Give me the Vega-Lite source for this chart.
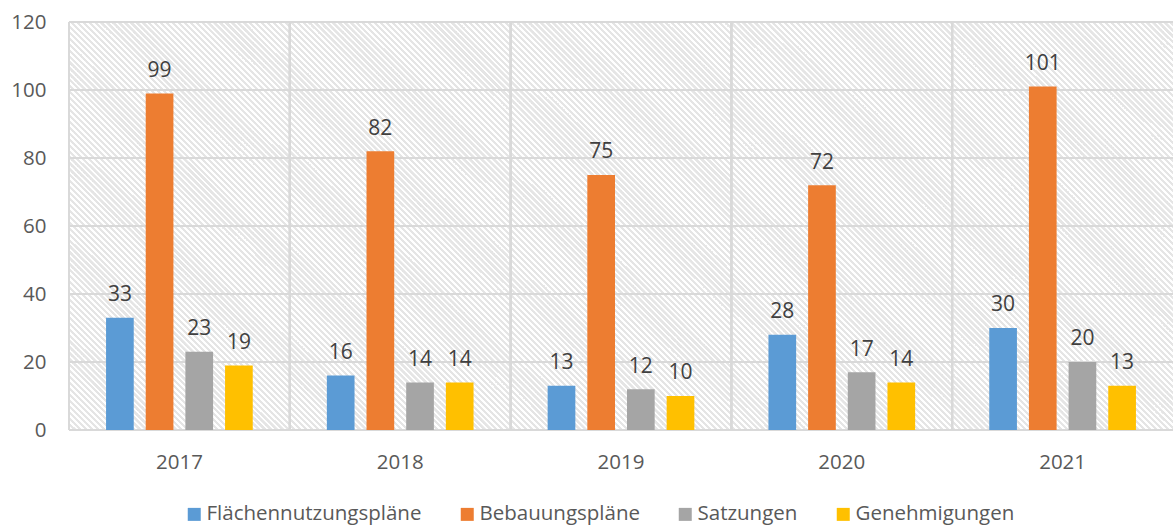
{
  "$schema": "https://vega.github.io/schema/vega-lite/v6.json",
  "width": 1104,
  "height": 408,
  "autosize": "none",
  "padding": {"left": 69, "top": 22, "right": 0, "bottom": 99},
  "background": "white",
  "config": {
    "view": {"stroke": null},
    "font": "Open Sans",
    "axis": {"labelFont": "Open Sans"},
    "legend": {"labelFont": "Open Sans"}
  },
  "data": {
    "values": [
      {"year": "2017", "type": "Flächennutzungspläne", "value": 33},
      {"year": "2017", "type": "Bebauungspläne", "value": 99},
      {"year": "2017", "type": "Satzungen", "value": 23},
      {"year": "2017", "type": "Genehmigungen", "value": 19},
      {"year": "2018", "type": "Flächennutzungspläne", "value": 16},
      {"year": "2018", "type": "Bebauungspläne", "value": 82},
      {"year": "2018", "type": "Satzungen", "value": 14},
      {"year": "2018", "type": "Genehmigungen", "value": 14},
      {"year": "2019", "type": "Flächennutzungspläne", "value": 13},
      {"year": "2019", "type": "Bebauungspläne", "value": 75},
      {"year": "2019", "type": "Satzungen", "value": 12},
      {"year": "2019", "type": "Genehmigungen", "value": 10},
      {"year": "2020", "type": "Flächennutzungspläne", "value": 28},
      {"year": "2020", "type": "Bebauungspläne", "value": 72},
      {"year": "2020", "type": "Satzungen", "value": 17},
      {"year": "2020", "type": "Genehmigungen", "value": 14},
      {"year": "2021", "type": "Flächennutzungspläne", "value": 30},
      {"year": "2021", "type": "Bebauungspläne", "value": 101},
      {"year": "2021", "type": "Satzungen", "value": 20},
      {"year": "2021", "type": "Genehmigungen", "value": 13}
    ]
  },
  "resolve": {"scale": {"x": "independent", "y": "independent"}},
  "layer": [
    {
      "mark": {"type": "rule", "color": "#e5e5e5", "strokeWidth": 1100, "strokeDash": [1.4, 2.8], "strokeCap": "butt", "clip": true},
      "encoding": {
        "x": {"datum": 0.788, "type": "quantitative", "scale": {"domain": [0, 5], "nice": false, "zero": false}, "axis": null},
        "x2": {"datum": 4.212},
        "y": {"datum": -51.3, "type": "quantitative", "scale": {"domain": [0, 120], "nice": false, "zero": false}, "axis": null},
        "y2": {"datum": 171.3}
      }
    },
    {
      "layer": [
        {
          "mark": {"type": "rule", "color": "#d9d9d9", "strokeWidth": 2},
          "encoding": {
            "x": {"field": "year", "type": "nominal", "bandPosition": 0,
              "scale": {"paddingInner": 0, "paddingOuter": 0},
              "axis": {"title": null, "labelAngle": 0, "ticks": false, "domain": false, "grid": false, "labelFontSize": 20.5, "labelColor": "#595959", "labelPadding": 22}}
          }
        },
        {"mark": {"type": "rule", "color": "#d9d9d9", "strokeWidth": 2}, "encoding": {"y": {"datum": 0, "type": "quantitative"}}},
        {"mark": {"type": "rule", "color": "#d9d9d9", "strokeWidth": 2}, "encoding": {"y": {"datum": 20, "type": "quantitative"}}},
        {"mark": {"type": "rule", "color": "#d9d9d9", "strokeWidth": 2}, "encoding": {"y": {"datum": 40, "type": "quantitative"}}},
        {"mark": {"type": "rule", "color": "#d9d9d9", "strokeWidth": 2}, "encoding": {"y": {"datum": 60, "type": "quantitative"}}},
        {"mark": {"type": "rule", "color": "#d9d9d9", "strokeWidth": 2}, "encoding": {"y": {"datum": 80, "type": "quantitative"}}},
        {"mark": {"type": "rule", "color": "#d9d9d9", "strokeWidth": 2}, "encoding": {"y": {"datum": 100, "type": "quantitative"}}},
        {"mark": {"type": "rule", "color": "#d9d9d9", "strokeWidth": 2}, "encoding": {"y": {"datum": 120, "type": "quantitative"}}},
        {
          "mark": {"type": "bar"},
          "encoding": {
            "x": {"field": "year", "type": "nominal",
              "scale": {"paddingInner": 0, "paddingOuter": 0},
              "axis": {"title": null, "labelAngle": 0, "ticks": false, "domain": false, "grid": false, "labelFontSize": 20.5, "labelColor": "#595959", "labelPadding": 22}},
            "xOffset": {"field": "type", "type": "nominal",
              "sort": ["Flächennutzungspläne", "Bebauungspläne", "Satzungen", "Genehmigungen"],
              "scale": {"paddingInner": 0.302, "paddingOuter": 0.934}},
            "y": {"field": "value", "type": "quantitative",
              "scale": {"domain": [0, 120], "nice": false},
              "axis": {"title": null, "values": [0, 20, 40, 60, 80, 100, 120], "grid": false, "domain": false, "ticks": false, "labelPadding": 23, "labelFontSize": 20.5, "labelColor": "#595959"}},
            "color": {"field": "type", "type": "nominal",
              "scale": {"domain": ["Flächennutzungspläne", "Bebauungspläne", "Satzungen", "Genehmigungen"], "range": ["#5B9BD5", "#ED7D31", "#A5A5A5", "#FFC000"]},
              "legend": {"orient": "none", "legendX": 115, "legendY": 482, "direction": "horizontal", "title": null, "symbolType": "square", "symbolSize": 169, "symbolStrokeWidth": 0, "symbolOpacity": 1, "labelFontSize": 20.5, "labelColor": "#595959", "labelOffset": 2, "labelLimit": 0, "columnPadding": 35, "padding": 0}}
          }
        },
        {
          "mark": {"type": "text", "dy": -16.6, "baseline": "alphabetic", "fontSize": 21, "color": "#404040"},
          "encoding": {
            "x": {"field": "year", "type": "nominal"},
            "xOffset": {"field": "type", "type": "nominal", "sort": ["Flächennutzungspläne", "Bebauungspläne", "Satzungen", "Genehmigungen"]},
            "y": {"field": "value", "type": "quantitative"},
            "text": {"field": "value", "type": "quantitative"}
          }
        }
      ]
    }
  ]
}
